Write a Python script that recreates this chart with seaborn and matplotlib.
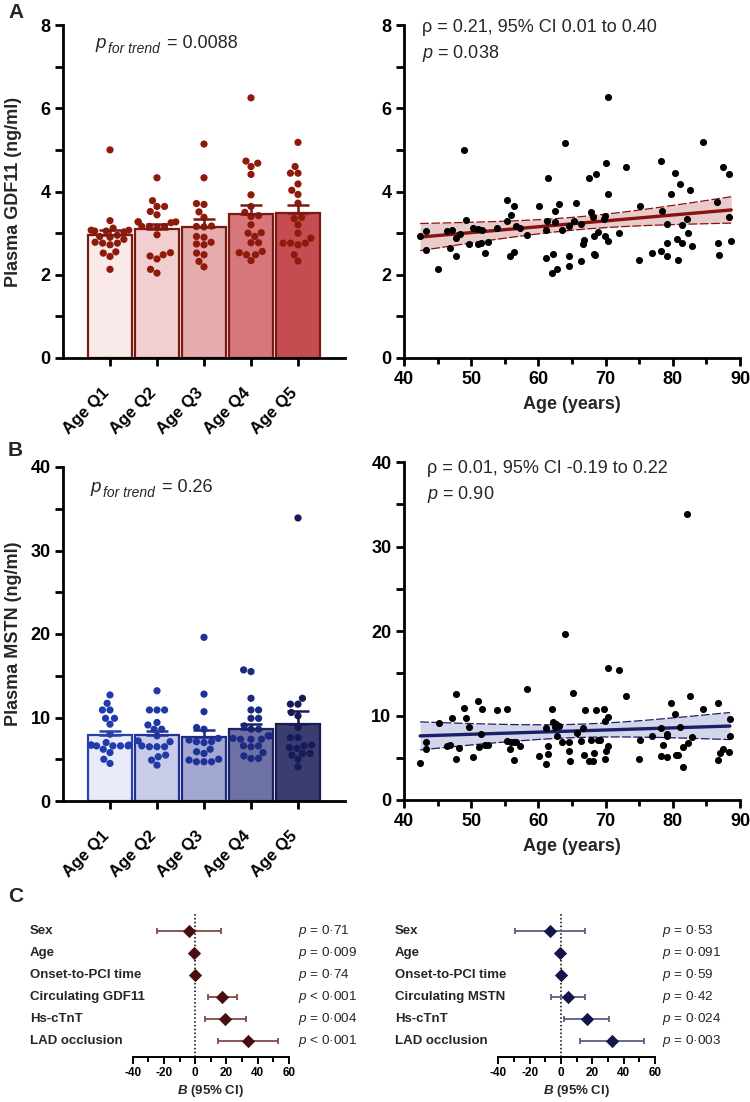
import numpy as np
import pandas as pd
import matplotlib
matplotlib.use("Agg")
import matplotlib.pyplot as plt
import matplotlib.transforms as mtransforms
from matplotlib.ticker import MultipleLocator
import seaborn as sns

# ---------------- data ----------------
quintiles = ["Age Q1", "Age Q2", "Age Q3", "Age Q4", "Age Q5"]

gdf11_q1 = [5.00, 3.30, 3.07, 3.07, 3.05, 3.05, 3.12, 3.03, 2.95, 2.92, 2.90, 2.85, 2.78, 2.76, 2.76, 2.72, 2.55, 2.52, 2.44, 2.13]
gdf11_q2 = [4.33, 3.78, 3.64, 3.64, 3.52, 3.44, 3.27, 3.27, 3.27, 3.25, 3.16, 3.16, 3.16, 3.14, 2.96, 2.53, 2.48, 2.45, 2.38, 2.13, 2.04]
gdf11_q3 = [5.14, 4.33, 3.71, 3.69, 3.51, 3.38, 3.17, 3.16, 3.15, 2.92, 2.90, 2.78, 2.74, 2.72, 2.52, 2.48, 2.32, 2.19]
gdf11_q4 = [6.25, 4.73, 4.68, 4.60, 4.41, 3.92, 3.64, 3.50, 3.42, 3.40, 3.20, 3.01, 3.00, 2.92, 2.77, 2.77, 2.56, 2.53, 2.48, 2.48, 2.34]
gdf11_q5 = [5.18, 4.60, 4.44, 4.44, 4.18, 4.03, 3.93, 3.72, 3.38, 3.35, 3.20, 3.00, 2.88, 2.76, 2.76, 2.76, 2.72, 2.48, 2.33]

mstn_q1 = [12.7, 11.7, 10.9, 10.9, 9.9, 9.9, 9.2, 8.0, 7.0, 6.6, 6.6, 6.7, 6.7, 6.7, 6.6, 6.2, 5.8, 5.0, 4.5, 6.6]
mstn_q2 = [13.2, 10.9, 10.9, 10.9, 9.1, 9.4, 8.6, 8.6, 7.8, 7.1, 7.2, 6.5, 6.5, 6.5, 6.6, 5.3, 5.5, 4.3, 4.9]
mstn_q3 = [19.6, 12.8, 10.7, 8.8, 8.6, 7.5, 7.1, 7.1, 7.0, 5.7, 5.9, 4.7, 4.9, 4.7, 4.7, 7.3, 6.2, 5.0]
mstn_q4 = [15.7, 15.5, 12.3, 10.9, 10.9, 9.9, 9.9, 8.6, 9.0, 8.6, 7.4, 7.4, 7.8, 7.8, 7.4, 7.5, 6.6, 6.6, 6.5, 5.8, 5.4, 5.1, 5.1]
mstn_q5 = [33.9, 12.3, 11.6, 11.6, 10.6, 10.2, 8.8, 7.6, 7.6, 6.7, 5.5, 6.3, 6.4, 5.7, 5.7, 4.1, 5.0, 6.6]

age_gdf11 = [42.4, 43.2, 43.2, 45.1, 46.4, 47.2, 46.8, 47.7, 47.7, 48.3,
             48.9, 49.2, 49.6, 50.2, 51.0, 51.0, 51.6, 51.4, 52.0, 52.5,
             53.9, 55.4, 55.3, 55.9, 55.8, 56.3, 56.4, 56.6, 57.2, 58.3,
             60.1, 61.4, 61.3, 61.2, 61.1, 62.0, 62.1, 62.5, 62.5, 62.7,
             63.0, 63.5, 64.0, 64.6, 64.6, 64.5, 65.3, 65.6, 66.3, 66.4,
             66.7, 66.8, 67.6, 67.9, 68.1, 68.3, 68.3, 68.4, 68.5, 68.9,
             69.7, 69.9, 69.9, 70.0, 70.3, 70.3, 70.4, 72.0, 73.0, 74.9,
             75.1, 76.9, 78.2, 78.2, 78.4, 79.2, 79.2, 79.2, 79.8, 80.3,
             80.6, 80.7, 81.0, 81.3, 81.4, 82.1, 82.3, 82.6, 82.8, 84.5,
             86.6, 86.7, 86.9, 87.5, 88.4, 88.4, 88.7]
gdf11_values = [2.92, 3.05, 2.60, 2.14, 3.05, 3.08, 2.64, 2.89, 2.45, 2.97,
                5.00, 3.31, 2.75, 3.13, 3.09, 2.73, 3.08, 2.77, 2.52, 2.78,
                3.13, 3.79, 3.29, 3.44, 2.44, 2.54, 3.66, 3.16, 3.13, 2.96,
                3.64, 4.33, 3.28, 3.08, 2.40, 2.04, 2.50, 3.53, 3.26, 2.13,
                3.71, 3.08, 5.16, 2.45, 2.20, 3.16, 3.28, 3.73, 3.23, 2.33,
                2.73, 2.84, 4.33, 3.51, 3.38, 2.92, 2.50, 2.48, 4.43, 3.02,
                3.34, 3.40, 2.92, 4.68, 6.28, 3.93, 2.80, 3.01, 4.58, 2.35,
                3.64, 2.53, 2.57, 4.74, 3.52, 3.21, 2.77, 2.45, 3.94, 4.44,
                2.85, 2.35, 4.18, 2.76, 3.20, 3.34, 3.00, 4.04, 2.68, 5.19,
                3.74, 2.76, 2.47, 4.60, 3.38, 4.42, 2.80]

age_mstn = [42.4, 43.3, 43.3, 45.2, 46.4, 46.8, 47.1, 47.8, 47.8, 48.2,
            48.9, 49.2, 49.6, 50.2, 51.0, 51.1, 51.4, 51.6, 52.0, 52.5,
            53.9, 55.3, 55.3, 55.7, 55.9, 56.3, 56.4, 56.7, 57.2, 58.3,
            60.1, 61.1, 61.1, 61.4, 61.5, 62.0, 62.2, 62.4, 62.6, 62.7,
            63.1, 63.5, 64.6, 64.6, 64.7, 65.2, 65.7, 66.3, 66.6, 66.8,
            66.9, 67.5, 67.9, 68.1, 68.2, 68.6, 68.8, 69.1, 69.8, 69.9,
            69.9, 70.1, 70.3, 70.3, 70.4, 72.0, 73.0, 74.9, 75.1, 76.9,
            78.2, 78.2, 78.5, 79.1, 79.2, 79.2, 79.8, 80.3, 80.5, 80.8,
            81.0, 81.5, 81.5, 82.3, 82.6, 82.8, 84.5, 86.8, 86.8, 87.0,
            87.5, 88.3, 88.5, 88.5, 64.0, 82.1]
mstn_values = [4.37, 6.83, 6.03, 9.09, 6.43, 6.55, 9.72, 12.58, 4.84, 6.19,
               10.91, 9.72, 8.61, 5.12, 11.67, 6.23, 7.78, 10.79, 6.55, 6.55,
               10.71, 10.79, 7.02, 6.03, 6.83, 4.76, 6.83, 6.90, 6.35, 13.10,
               5.16, 8.49, 4.21, 6.35, 5.44, 10.79, 9.21, 8.61, 9.01, 7.54,
               8.73, 6.90, 6.90, 5.75, 4.56, 12.70, 7.94, 6.94, 8.49, 5.32,
               10.60, 4.64, 7.14, 4.56, 5.56, 10.71, 7.14, 7.14, 10.79, 9.36,
               4.84, 5.75, 9.80, 15.63, 6.35, 15.44, 12.26, 4.84, 7.14, 7.62,
               8.49, 5.24, 6.55, 7.82, 7.54, 5.04, 11.51, 10.12, 5.36, 5.36,
               8.61, 3.93, 6.31, 6.75, 12.30, 7.42, 10.79, 11.51, 4.76, 5.56,
               6.03, 5.63, 9.60, 7.62, 19.65, 33.80]

forest_names_gdf11 = ["Sex", "Age", "Onset-to-PCI time", "Circulating GDF11", "Hs-cTnT", "LAD occlusion"]
forest_b_gdf11 = [-4.0, -1.0, 0.1, 17.4, 19.3, 34.0]
forest_lo_gdf11 = [-24.4, -1.8, -0.5, 8.0, 6.3, 14.8]
forest_hi_gdf11 = [16.5, -0.3, 0.7, 27.0, 32.3, 53.2]
forest_p_gdf11 = ["= 0·71", "= 0·009", "= 0·74", "< 0·001", "= 0·004", "< 0·001"]

forest_names_mstn = ["Sex", "Age", "Onset-to-PCI time", "Circulating MSTN", "Hs-cTnT", "LAD occlusion"]
forest_b_mstn = [-7.2, -0.6, 0.2, 4.3, 16.4, 32.3]
forest_lo_mstn = [-29.6, -1.4, -0.4, -6.4, 2.1, 11.9]
forest_hi_mstn = [15.1, 0.2, 0.8, 15.1, 30.6, 53.0]
forest_p_mstn = ["= 0·53", "= 0·091", "= 0·59", "= 0·42", "= 0·024", "= 0·003"]

# ---------------- style ----------------
sns.set_theme(style="ticks")
plt.rcParams.update({
    "font.family": ["Liberation Sans", "DejaVu Sans"],
    "mathtext.fontset": "custom",
    "mathtext.rm": "Liberation Sans",
    "mathtext.it": "Liberation Sans:italic",
    "mathtext.bf": "Liberation Sans:bold",
    "mathtext.bfit": "Liberation Sans:italic:bold",
    "axes.unicode_minus": False,
    "axes.linewidth": 2.0,
    "axes.edgecolor": "black",
    "xtick.color": "black",
    "ytick.color": "black",
})

W, H = 750, 1102
fig = plt.figure(figsize=(W / 100, H / 100), dpi=100)


def add_ax(l, t, r, b):
    return fig.add_axes([l / W, 1 - b / H, (r - l) / W, (b - t) / H])


def style_axes(ax, fs=13):
    sns.despine(ax=ax)
    ax.tick_params(which="major", direction="out", length=6, width=2, labelsize=fs, pad=3)
    ax.tick_params(which="minor", direction="out", length=6, width=2)
    for lab in ax.get_xticklabels() + ax.get_yticklabels():
        lab.set_fontweight("bold")


def bar_panel(ax, groups, fills, edges, pts, ymax, major, ylabel):
    df = pd.DataFrame({"group": np.repeat(quintiles, [len(g) for g in groups]),
                       "value": np.concatenate(groups)})
    sns.barplot(data=df, x="group", y="value", hue="group", palette=fills,
                saturation=1, errorbar=None, width=0.93, linewidth=1.6,
                edgecolor="black", legend=False, ax=ax, zorder=1)
    for p, ec in zip(ax.patches, edges):
        p.set_edgecolor(ec)
    sns.swarmplot(data=df, x="group", y="value", hue="group", palette=pts,
                  size=5.2, linewidth=0, legend=False, ax=ax, zorder=3)
    stats = df.groupby("group", sort=False)["value"].agg(["mean", "sem"])
    for i, q in enumerate(quintiles):
        ax.errorbar([i], [stats.loc[q, "mean"]], yerr=[[0], [stats.loc[q, "sem"]]],
                    fmt="none", ecolor=edges[i], elinewidth=1.8, capsize=8,
                    capthick=1.8, zorder=4)
    ax.set_xlim(-1, 5)
    ax.set_ylim(0, ymax)
    ax.yaxis.set_major_locator(MultipleLocator(major))
    ax.yaxis.set_minor_locator(MultipleLocator(major / 2))
    ax.set_xlabel("")
    ax.set_ylabel(ylabel, fontsize=13, fontweight="bold")
    ax.yaxis.set_label_coords(-0.145, 0.5)
    style_axes(ax)
    ax.set_xticks(range(5))
    ax.set_xticklabels(quintiles, rotation=45, ha="right", va="top",
                       rotation_mode="anchor", fontsize=12, fontweight="bold")
    ax.tick_params(axis="x", pad=14)
    shift = mtransforms.ScaledTranslation(-0.09, 0, fig.dpi_scale_trans)
    for lab in ax.get_xticklabels():
        lab.set_transform(lab.get_transform() + shift)


def scatter_panel(ax, x, y, line_c, band_c, ymax, major):
    x = np.asarray(x, dtype=float)
    y = np.asarray(y, dtype=float)
    sns.scatterplot(x=x, y=y, color="black", s=26, linewidth=0, ax=ax, zorder=3)
    slope, intercept = np.polyfit(x, y, 1)
    n = len(x)
    resid = y - (slope * x + intercept)
    s = np.sqrt((resid ** 2).sum() / (n - 2))
    xx = np.linspace(x.min(), x.max(), 200)
    yy = slope * xx + intercept
    se = s * np.sqrt(1 / n + (xx - x.mean()) ** 2 / ((x - x.mean()) ** 2).sum())
    t = 1.985
    ax.fill_between(xx, yy - t * se, yy + t * se, color=band_c, lw=0, zorder=1)
    ax.plot(xx, yy - t * se, ls=(0, (7, 2)), color=line_c, lw=0.9, zorder=2)
    ax.plot(xx, yy + t * se, ls=(0, (7, 2)), color=line_c, lw=0.9, zorder=2)
    ax.plot(xx, yy, color=line_c, lw=2.4, zorder=2.5)
    ax.set_xlim(40, 90)
    ax.set_ylim(0, ymax)
    ax.xaxis.set_major_locator(MultipleLocator(10))
    ax.xaxis.set_minor_locator(MultipleLocator(5))
    ax.yaxis.set_major_locator(MultipleLocator(major))
    ax.yaxis.set_minor_locator(MultipleLocator(major / 2))
    ax.set_xlabel("Age (years)", fontsize=13, fontweight="bold", labelpad=6)
    style_axes(ax)
    ax.tick_params(axis="x", which="minor", length=4.5)


def forest_panel(ax, names, b, lo, hi, ptxt, marker_c, line_c, label_x, p_x):
    b = np.asarray(b)
    lo = np.asarray(lo)
    hi = np.asarray(hi)
    ypos = np.arange(len(names))
    ax.axvline(0, color="black", ls=(0, (1, 1.5)), lw=1.1, zorder=1)
    ax.errorbar(b, ypos, xerr=[b - lo, hi - b], fmt="none", ecolor=line_c,
                elinewidth=1.3, capsize=2.5, capthick=1.3, zorder=2)
    sns.scatterplot(x=b, y=ypos, marker="D", color=marker_c, s=46, linewidth=0,
                    ax=ax, zorder=3)
    ax.set_xlim(-40, 60)
    ax.set_ylim(5.7, -0.8)
    ax.set_yticks([])
    sns.despine(ax=ax, left=True)
    ax.spines["bottom"].set_linewidth(1.4)
    ax.xaxis.set_major_locator(MultipleLocator(20))
    ax.xaxis.set_minor_locator(MultipleLocator(10))
    ax.tick_params(axis="x", which="major", length=5, width=1.4, labelsize=8.5, pad=2)
    ax.tick_params(axis="x", which="minor", length=3.5, width=1.4)
    for lab in ax.get_xticklabels():
        lab.set_fontweight("bold")
    ax.set_xlabel(r"$\mathbfit{B}$ (95% CI)", fontsize=9.5, fontweight="bold", labelpad=3)
    trans = mtransforms.blended_transform_factory(fig.transFigure, ax.transData)
    for i, (nm, pt) in enumerate(zip(names, ptxt)):
        ax.text(label_x / W, i, nm, transform=trans, ha="left", va="center",
                fontsize=9.5, fontweight="bold", clip_on=False)
        ax.text(p_x / W, i, r"$p$ " + pt, transform=trans, ha="left", va="center",
                fontsize=9.7, clip_on=False)


# ---------------- panels ----------------
red_fill = ["#f9e9e9", "#f1cfd0", "#e5abad", "#d5777b", "#c54d52"]
red_edge = ["#7b1a12"] * 5
red_pts = ["#8e1a0c"] * 5
blue_fill = ["#e9ecf8", "#c8cce8", "#a3a8d2", "#6e71a6", "#3b3c70"]
blue_edge = ["#2b41b0", "#22339a", "#1e2b85", "#1c2268", "#1a1b4e"]
blue_pts = ["#1f3cae", "#1f3aa5", "#1d3298", "#1c2a80", "#161a58"]

axA1 = add_ax(63, 25, 345, 358)
bar_panel(axA1, [gdf11_q1, gdf11_q2, gdf11_q3, gdf11_q4, gdf11_q5],
          red_fill, red_edge, red_pts, 8, 2, "Plasma GDF11 (ng/ml)")

axA2 = add_ax(404, 25, 740, 358)
scatter_panel(axA2, age_gdf11, gdf11_values, "#8b1111", "#e8cccc", 8, 2)

axB1 = add_ax(63, 467, 345, 801)
bar_panel(axB1, [mstn_q1, mstn_q2, mstn_q3, mstn_q4, mstn_q5],
          blue_fill, blue_edge, blue_pts, 40, 10, "Plasma MSTN (ng/ml)")

axB2 = add_ax(404, 462, 740, 800)
scatter_panel(axB2, age_mstn, mstn_values, "#1a1f6a", "#d3d5e9", 40, 10)

axC1 = add_ax(132.7, 913, 289, 1057)
forest_panel(axC1, forest_names_gdf11, forest_b_gdf11, forest_lo_gdf11, forest_hi_gdf11,
             forest_p_gdf11, "#4a0e0e", "#7d4a4a", 30, 298)

axC2 = add_ax(498.3, 913, 655, 1057)
forest_panel(axC2, forest_names_mstn, forest_b_mstn, forest_lo_mstn, forest_hi_mstn,
             forest_p_mstn, "#14164a", "#5a5d85", 395, 662)

# ---------------- annotations ----------------
def ftext(x, y, s, **kw):
    fig.text(x / W, 1 - y / H, s, **kw)


def p_trend(x0, base, value):
    ftext(x0, base, "p", fontsize=13.5, style="italic", va="baseline")
    ftext(x0 + 13, base + 5, "for trend", fontsize=10, style="italic", va="baseline")
    ftext(x0 + 72, base, "= " + value, fontsize=13, va="baseline")


ftext(8, 12, "A", fontsize=15, fontweight="bold", va="center")
ftext(8, 450, "B", fontsize=15, fontweight="bold", va="center")
ftext(8, 897, "C", fontsize=15, fontweight="bold", va="center")

p_trend(95, 48, "0.0088")
ftext(422, 32, "ρ = 0.21, 95% CI 0.01 to 0.40", fontsize=13, va="baseline")
ftext(422, 58, r"$p$ = 0.038", fontsize=13, va="baseline")

p_trend(90, 492, "0.26")
ftext(427, 473, "ρ = 0.01, 95% CI -0.19 to 0.22", fontsize=13, va="baseline")
ftext(427, 499, r"$p$ = 0.90", fontsize=13, va="baseline")

fig.savefig("out.png", dpi=100)
